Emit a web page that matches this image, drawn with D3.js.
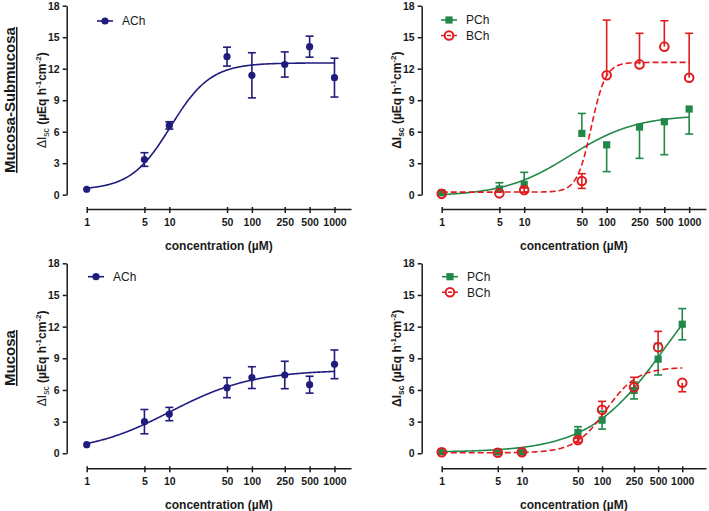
<!DOCTYPE html>
<html>
<head>
<meta charset="utf-8">
<script src="https://cdn.jsdelivr.net/npm/d3@7"></script>
<style>
  body { margin: 0; background: #fff; }
  svg { font-family: "Liberation Sans", Arial, sans-serif; }
</style>
</head>
<body>
<svg id="chart"></svg>
<script>
const concentrations = [1, 5, 10, 50, 100, 250, 500, 1000];
const xTickLabels = ['1', '5', '10', '50', '100', '250', '500', '1000'];
const yTicks = [0, 3, 6, 9, 12, 15, 18];

// Mucosa-Submucosa
const mmAChMean = [0.52, 3.35, 6.6, 13.15, 11.37, 12.4, 14.1, 11.15];
const mmAChErrUp = [0, 0.65, 0.35, 0.9, 2.15, 1.2, 1.0, 1.85];
const mmAChErrDown = [0, 0.65, 0.35, 0.9, 2.15, 1.2, 1.0, 1.85];
const mmAChFit = [0.45, 12.55, 10.4, 1.8]; // bottom, top, EC50, hill

const mmPChMean = [0.18, 0.54, 0.98, 5.84, 4.75, 6.44, 6.95, 8.16];
const mmPChErrUp = [0, 0.6, 1.15, 1.9, 0, 0, 0, 0];
const mmPChErrDown = [0, 0, 0, 0, 2.55, 2.98, 3.14, 2.38];
const mmPChFit = [-0.15, 7.6, 36, 1.08];

const mmBChMean = [0.08, 0.13, 0.44, 1.3, 11.37, 12.41, 14.1, 11.14];
const mmBChErrUp = [0, 0, 0.2, 0.7, 5.26, 2.96, 2.47, 4.23];
const mmBChErrDown = [0, 0, 0.2, 0.7, 0, 0, 0, 0];
const mmBChFit = [0.25, 12.6, 65, 5];

// Mucosa
const mAChMean = [0.82, 3.0, 3.72, 6.22, 7.17, 7.42, 6.5, 8.43];
const mAChErrUp = [0, 1.15, 0.63, 0.95, 1.03, 1.3, 0.8, 1.36];
const mAChErrDown = [0, 1.15, 0.63, 0.95, 1.03, 1.3, 0.8, 1.36];
const mAChFit = [0, 7.9, 10.3, 0.87];

const mPChMean = [0.17, 0.12, 0.12, 1.97, 3.14, 5.95, 8.92, 12.23];
const mPChErrUp = [0, 0, 0, 0.55, 0.85, 0.8, 1.5, 1.48];
const mPChErrDown = [0, 0, 0, 0.55, 0.85, 0.8, 1.5, 1.48];
const mPChFit = [0.1, 20, 617, 0.91];

const mBChMean = [0.1, 0.05, 0.1, 1.25, 4.12, 6.25, 10.05, 6.68];
const mBChErrUp = [0, 0, 0, 0.2, 0.8, 0.95, 1.5, 0];
const mBChErrDown = [0, 0, 0, 0.2, 0, 0, 0, 0.85];
const mBChFit = [0.05, 8.15, 112, 2.23];

const colors = { ACh: '#201c7e', PCh: '#22884a', BCh: '#e11b1f' };

const svg = d3.select('#chart')
  .attr('width', 709)
  .attr('height', 511);

const series = (name, mean, up, down, fit, symbol, dashed) =>
  ({ name, mean, up, down, fit, symbol, dashed, color: colors[name] });

const panels = [
  { ax: 66.7, x1: 86.7, xEnd: 351, xMax: 1585, yTop: 5.7, yZero: 194.7, xAxisY: 209,
    boldDelta: false, legend: { x: 97, y: 21 },
    series: [series('ACh', mmAChMean, mmAChErrUp, mmAChErrDown, mmAChFit, 'dot', false)] },
  { ax: 421.7, x1: 441.7, xEnd: 706, xMax: 1600, yTop: 5.7, yZero: 194.7, xAxisY: 209,
    boldDelta: true, legend: { x: 441, y: 20 },
    series: [series('PCh', mmPChMean, mmPChErrUp, mmPChErrDown, mmPChFit, 'square', false),
             series('BCh', mmBChMean, mmBChErrUp, mmBChErrDown, mmBChFit, 'ring', true)] },
  { ax: 66.7, x1: 86.7, xEnd: 351, xMax: 1585, yTop: 263.3, yZero: 453.3, xAxisY: 468.3,
    boldDelta: false, legend: { x: 88, y: 276.7 },
    series: [series('ACh', mAChMean, mAChErrUp, mAChErrDown, mAChFit, 'dot', false)] },
  { ax: 421.7, x1: 441.7, xEnd: 706, xMax: 1977, yTop: 263.3, yZero: 453.3, xAxisY: 468.3,
    boldDelta: true, legend: { x: 442, y: 276.7 },
    series: [series('PCh', mPChMean, mPChErrUp, mPChErrDown, mPChFit, 'square', false),
             series('BCh', mBChMean, mBChErrUp, mBChErrDown, mBChFit, 'ring', true)] }
];

const logistic = ([bottom, top, ec50, hill], c) =>
  bottom + (top - bottom) / (1 + Math.pow(10, (Math.log10(ec50) - Math.log10(c)) * hill));

const drawSymbol = (g, kind, color, cx, cy) => {
  if (kind === 'dot') {
    g.append('circle').attr('cx', cx).attr('cy', cy).attr('r', 3.6).attr('fill', color);
  } else if (kind === 'square') {
    g.append('rect').attr('x', cx - 3.6).attr('y', cy - 3.6)
      .attr('width', 7.2).attr('height', 7.2).attr('fill', color);
  } else {
    g.append('circle').attr('cx', cx).attr('cy', cy).attr('r', 4.3)
      .attr('fill', 'none').attr('stroke', color).attr('stroke-width', 2);
  }
};

const drawPanel = (p) => {
  const x = d3.scaleLog().domain([1, p.xMax]).range([p.x1, p.xEnd]);
  const y = d3.scaleLinear().domain([0, 18]).range([p.yZero, p.yTop]);
  const g = svg.append('g');

  // y axis
  const yAxis = d3.axisLeft(y).tickValues(yTicks).tickSize(4).tickSizeOuter(0).tickPadding(3);
  const ya = g.append('g').attr('transform', `translate(${p.ax},0)`).call(yAxis);
  ya.select('.domain').attr('stroke', '#1a1a1a').attr('stroke-width', 1.5);
  ya.selectAll('.tick line').attr('stroke', '#1a1a1a').attr('stroke-width', 1.5);
  ya.selectAll('.tick text').attr('font-size', 10.5).attr('font-weight', 'bold')
    .attr('fill', '#1a1a1a').attr('font-family', '"Liberation Sans", Arial, sans-serif');

  // x axis
  const xAxis = d3.axisBottom(x).tickValues(concentrations)
    .tickFormat((d, i) => xTickLabels[i]).tickSize(4).tickSizeOuter(0);
  const xa = g.append('g').attr('transform', `translate(0,${p.xAxisY})`).call(xAxis);
  xa.select('.domain').attr('stroke', '#1a1a1a').attr('stroke-width', 1.5);
  xa.selectAll('.tick line').attr('stroke', '#1a1a1a').attr('stroke-width', 1.5).attr('y1', -2);
  xa.selectAll('.tick text').attr('font-size', 10.5).attr('font-weight', 'bold')
    .attr('fill', '#1a1a1a').attr('dy', 0).attr('y', 17)
    .attr('font-family', '"Liberation Sans", Arial, sans-serif');

  // axis titles
  g.append('text')
    .attr('x', (p.x1 + p.xEnd) / 2)
    .attr('y', p.xAxisY + 41)
    .attr('text-anchor', 'middle')
    .attr('font-size', 12)
    .attr('font-weight', 'bold')
    .attr('fill', '#1a1a1a')
    .text('concentration (µM)');

  const yt = g.append('text')
    .attr('transform', `translate(${p.ax - 20.5},${(p.yTop + p.yZero) / 2}) rotate(-90)`)
    .attr('text-anchor', 'middle')
    .attr('font-size', 12)
    .attr('font-weight', 'bold')
    .attr('fill', '#1a1a1a');
  yt.append('tspan').attr('font-weight', p.boldDelta ? 'bold' : 'normal').text('ΔI');
  yt.append('tspan').attr('font-weight', p.boldDelta ? 'bold' : 'normal')
    .attr('font-size', 8.5).attr('dy', 3).text('sc');
  yt.append('tspan').attr('dy', -3).text(' (µEq h');
  yt.append('tspan').attr('font-size', 8).attr('dy', -5).text('-1');
  yt.append('tspan').attr('dy', 5).text('cm');
  yt.append('tspan').attr('font-size', 8).attr('dy', -5).text('-2');
  yt.append('tspan').attr('dy', 5).text(')');

  // series
  const samples = d3.range(0, 301).map(i => Math.pow(10, 3 * i / 300));
  p.series.forEach((s) => {
    const sg = g.append('g');
    sg.append('path')
      .datum(samples)
      .attr('fill', 'none')
      .attr('stroke', s.color)
      .attr('stroke-width', 1.6)
      .attr('stroke-dasharray', s.dashed ? '6,3' : null)
      .attr('d', d3.line().x(c => x(c)).y(c => y(logistic(s.fit, c))));

    concentrations.forEach((c, i) => {
      const cx = x(c);
      const hi = s.mean[i] + s.up[i];
      const lo = s.mean[i] - s.down[i];
      if (s.up[i] > 0 || s.down[i] > 0) {
        sg.append('line').attr('x1', cx).attr('x2', cx)
          .attr('y1', y(hi)).attr('y2', y(lo))
          .attr('stroke', s.color).attr('stroke-width', 1.6);
      }
      if (s.up[i] > 0) {
        sg.append('line').attr('x1', cx - 4).attr('x2', cx + 4)
          .attr('y1', y(hi)).attr('y2', y(hi))
          .attr('stroke', s.color).attr('stroke-width', 1.6);
      }
      if (s.down[i] > 0) {
        sg.append('line').attr('x1', cx - 4).attr('x2', cx + 4)
          .attr('y1', y(lo)).attr('y2', y(lo))
          .attr('stroke', s.color).attr('stroke-width', 1.6);
      }
      drawSymbol(sg, s.symbol, s.color, cx, y(s.mean[i]));
    });
  });

  // legend
  p.series.forEach((s, k) => {
    const ly = p.legend.y + k * 15.5;
    g.append('line')
      .attr('x1', p.legend.x).attr('x2', p.legend.x + 16)
      .attr('y1', ly).attr('y2', ly)
      .attr('stroke', s.color).attr('stroke-width', 1.6)
      .attr('stroke-dasharray', s.dashed ? '4,2' : null);
    drawSymbol(g, s.symbol, s.color, p.legend.x + 8, ly);
    g.append('text')
      .attr('x', p.legend.x + 25)
      .attr('y', ly + 4.3)
      .attr('font-size', 12)
      .attr('fill', '#1a1a1a')
      .text(s.name);
  });
};

panels.forEach(drawPanel);

// row labels
const rowLabels = ['Mucosa-Submucosa', 'Mucosa'];
const rowCentres = [100, 358];
rowLabels.forEach((label, i) => {
  svg.append('text')
    .attr('transform', `translate(15,${rowCentres[i]}) rotate(-90)`)
    .attr('text-anchor', 'middle')
    .attr('font-size', 15)
    .attr('font-weight', 'bold')
    .attr('text-decoration', 'underline')
    .attr('fill', '#1a1a1a')
    .text(label);
});
</script>
</body>
</html>
